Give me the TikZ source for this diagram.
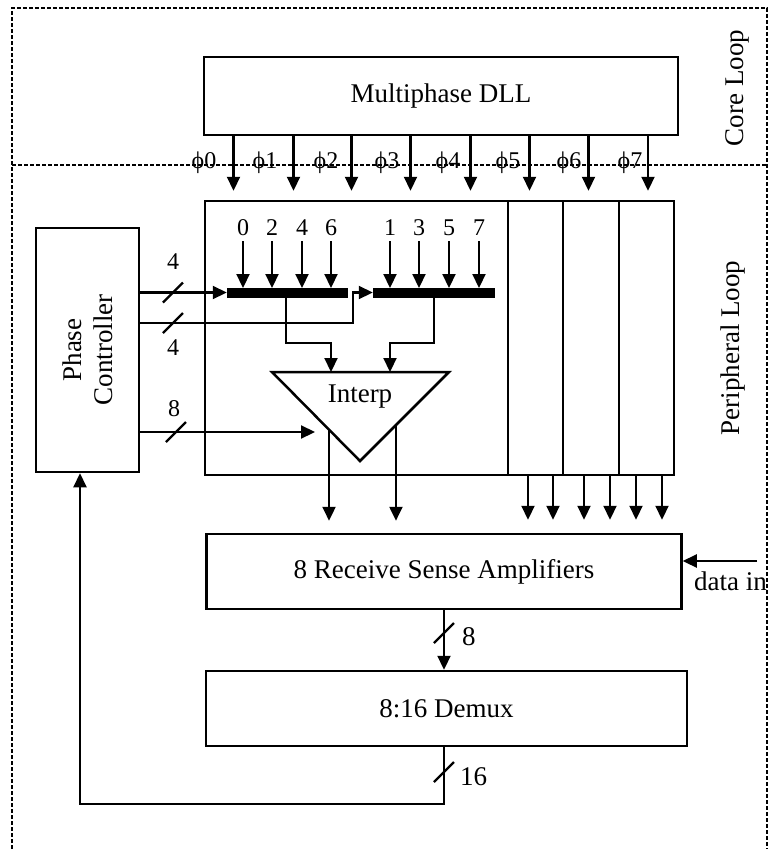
\documentclass[tikz,border=0pt]{standalone}
\usepackage{fontspec}
\setmainfont{Liberation Serif}
\usetikzlibrary{arrows.meta,calc}
\begin{document}
\begin{tikzpicture}[x=1pt,y=-1pt,
  box/.style={draw,line width=2.5pt,minimum width=#1,inner sep=0pt},
  big/.style={font=\fontsize{27}{31}\selectfont},
  lbl/.style={font=\fontsize{24}{27}\selectfont,inner sep=1pt},
  arr/.style={line width=2.2pt,-{Triangle[length=14pt,width=13pt]}},
  slashln/.style={line width=2.2pt},
  frame/.style={line width=1.2pt,dash pattern=on 4pt off 2pt},
  bar/.style={fill=black,draw=black,line width=0.5pt,minimum height=8.5pt,inner sep=0pt,minimum width=#1}
]
\useasboundingbox (0,0) rectangle (770,849);
% dashed frame
\draw[frame] (12,849) -- (12,8) -- (767,8) -- (767,849);
\draw[frame] (12,165) -- (767,165);
\node[big,rotate=90] (corel) at (737,88) {Core Loop};
\node[big,rotate=90] (perl) at (733,348) {Peripheral Loop};

% boxes
\node[box=474pt,minimum height=78pt,big] (dll) at (441,96) {Multiphase DLL};
\node[box=303pt,minimum height=274pt] (core) at (356.5,338) {};
\node[box=55pt,minimum height=274pt] (col1) at (535.5,338) {};
\node[box=56pt,minimum height=274pt] (col2) at (591,338) {};
\node[box=55pt,minimum height=274pt] (col3) at (646.5,338) {};
\node[box=244pt,big,rotate=90,minimum height=103pt,align=center] (pc) at (87.5,350) {Phase\\Controller};
\node[box=475pt,minimum height=75pt,big] (rsa) at (444,571.5) {8 Receive Sense Amplifiers};
\node[box=481pt,minimum height=75pt,big] (demux) at (446.5,708.5) {8:16 Demux};

% phase arrows
\foreach \i/\x/\lx in {0/233.5/204,1/293.5/265,2/351.5/326,3/410.5/387,4/470.5/448,5/529.5/508,6/588.5/569,7/648/630}{
  \coordinate (p\i) at (\x,135);
  \draw[arr,shorten >=9pt] (p\i) -- (p\i |- core.north);
  \node[lbl] (ph\i) at (\lx,163) {ϕ\i};
}

% mux bars
\node[bar=120pt] (bar1) at (287,292.5) {};
\node[bar=121pt] (bar2) at (433.5,292.5) {};
\foreach \n/\x in {0/243,2/272,4/302,6/331}{
  \node[lbl] (e\n) at (\x,228) {\n};
  \draw[arr,shorten <=4pt] (e\n) -- (e\n |- bar1.north);
}
\foreach \n/\x in {1/390,3/419,5/449,7/479}{
  \node[lbl] (o\n) at (\x,228) {\n};
  \draw[arr,shorten <=4pt] (o\n) -- (o\n |- bar2.north);
}

% interpolator triangle
\coordinate (tl) at (272,372);
\coordinate (tr) at (449,372);
\coordinate (tb) at (360,461);
\draw[line width=2.5pt,line join=miter] (tl) -- (tr) -- (tb) -- cycle;
\node[big] (interp) at (360,397) {Interp};

% bar outputs to interpolator
\coordinate (j1) at (331,343);
\coordinate (j2) at (390,343);
\draw[arr] ([xshift=-1pt]bar1.south) |- (j1) -- (j1 |- tl);
\draw[arr] ([xshift=0.5pt]bar2.south) |- (j2) -- (j2 |- tr);

% phase controller lines
\draw[arr] (pc.south |- bar1.west) -- (bar1.west);
\coordinate (c2) at (353,323);
\draw[arr] (pc.south |- c2) -- (c2) |- (bar2.west);
\coordinate (c3) at (315,432);
\draw[arr] (pc.south |- c3) -- (c3);
\foreach \s in {(173,292.5),(173,323),(176,432)}{
  \draw[slashln] \s ++(-10,10) -- ++(20,-20);
}
\node[lbl] (l4a) at (173,262) {4};
\node[lbl] (l4b) at (173,348) {4};
\node[lbl] (l8a) at (174,409) {8};

% interpolator outputs
\coordinate (q1) at ($(tl)!0.648!(tb)$);
\coordinate (q2) at ($(tr)!0.596!(tb)$);
\draw[arr,shorten >=12pt] (q1) -- (q1 |- rsa.north);
\draw[arr,shorten >=12pt] (q2) -- (q2 |- rsa.north);

% column outputs
\foreach \x in {528,553,584,610,636,662}{
  \coordinate (k) at (\x,475);
  \draw[arr,shorten >=13pt] (k) -- (k |- rsa.north);
}

% data in
\coordinate (din) at (757,561);
\draw[arr] (din) -- (rsa.east |- din);
\node[big,anchor=base west,inner sep=0pt] (dintxt) at (694,590) {data in};

% rsa to demux
\draw[arr] (rsa.south) -- (rsa.south |- demux.north);
\draw[slashln] (444,633) ++(-10,10) -- ++(20,-20);
\node[big,anchor=west,inner sep=0pt] (l8b) at (462,637) {8};

% feedback
\coordinate (fb) at (80,804);
\draw[arr] (rsa.south |- demux.south) |- (fb) -- (fb |- pc.west);
\draw[slashln] (444,772) ++(-10,10) -- ++(20,-20);
\node[big,anchor=west,inner sep=0pt] (l16) at (460,777) {16};
\end{tikzpicture}
\end{document}
